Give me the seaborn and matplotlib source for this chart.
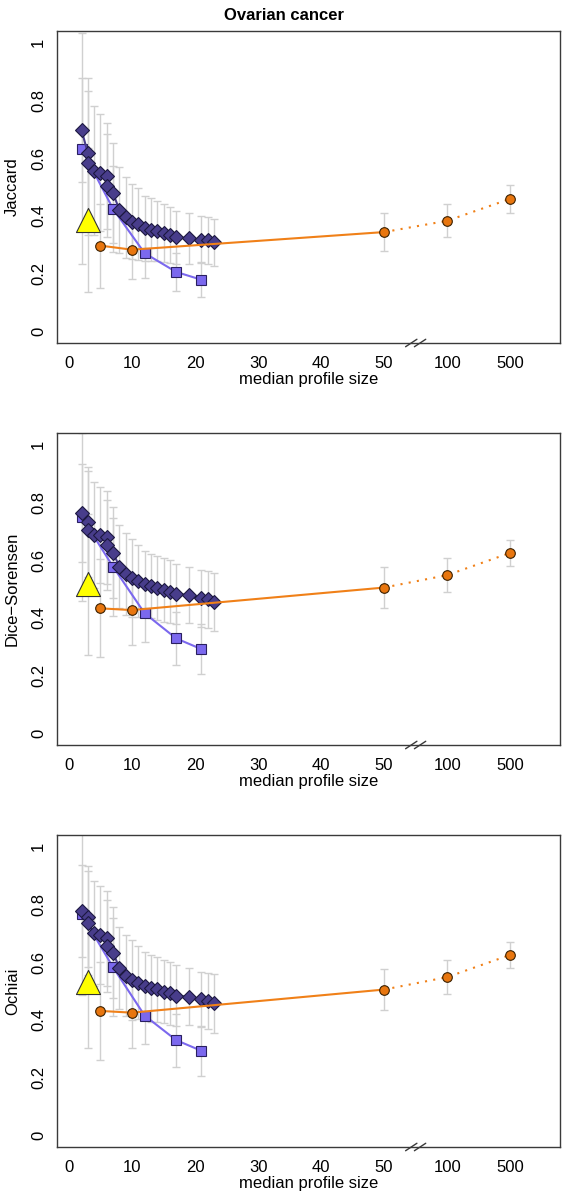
import numpy as np
import matplotlib
matplotlib.use("Agg")
import matplotlib.pyplot as plt
import matplotlib.transforms as mtransforms
import seaborn as sns

# --- data ---

dark_x = [2, 3, 3, 4, 5, 6, 6, 7, 8, 9, 10, 11, 12, 13, 14, 15, 16, 17, 19, 21, 22, 23]
square_x = [2, 7, 12, 17, 21]
orange_x = [5, 10, 50, 100, 500]
triangle_x = [3]

jac_dark = [0.697, 0.616, 0.584, 0.556, 0.549, 0.538, 0.505, 0.478, 0.421, 0.395, 0.380,
            0.372, 0.357, 0.352, 0.349, 0.340, 0.334, 0.326, 0.323, 0.317, 0.315, 0.308]
jac_dark_err = [0.18, 0.26, 0.25, 0.223, 0.203, 0.184, 0.177, 0.173, 0.149, 0.141, 0.130,
                0.123, 0.112, 0.109, 0.104, 0.100, 0.098, 0.092, 0.088, 0.081, 0.080, 0.082]
jac_square = [0.633, 0.424, 0.271, 0.206, 0.179]
jac_square_err = [0.40, 0.15, 0.085, 0.067, 0.06]
jac_orange = [0.297, 0.283, 0.344, 0.383, 0.459]
jac_orange_err = [0.145, 0.10, 0.065, 0.057, 0.048]
jac_triangle = [0.386]
jac_triangle_err = [0.25]

dice_dark = [0.762, 0.733, 0.704, 0.687, 0.687, 0.679, 0.652, 0.626, 0.577, 0.552, 0.537,
             0.529, 0.517, 0.510, 0.504, 0.496, 0.491, 0.483, 0.479, 0.468, 0.464, 0.456]
dice_dark_err = [0.17, 0.19, 0.205, 0.184, 0.167, 0.16, 0.156, 0.157, 0.144, 0.141, 0.135,
                 0.125, 0.115, 0.111, 0.110, 0.110, 0.109, 0.103, 0.098, 0.098, 0.100, 0.100]
dice_square = [0.750, 0.577, 0.416, 0.329, 0.292]
dice_square_err = [0.29, 0.17, 0.10, 0.092, 0.086]
dice_orange = [0.433, 0.427, 0.505, 0.548, 0.625]
dice_orange_err = [0.17, 0.12, 0.07, 0.06, 0.045]
dice_triangle = [0.516]
dice_triangle_err = [0.245]

och_dark = [0.777, 0.757, 0.737, 0.700, 0.694, 0.682, 0.656, 0.633, 0.579, 0.553, 0.538,
            0.529, 0.517, 0.509, 0.506, 0.498, 0.492, 0.484, 0.480, 0.471, 0.466, 0.457]
och_dark_err = [0.159, 0.175, 0.18, 0.181, 0.17, 0.164, 0.16, 0.157, 0.142, 0.141, 0.139,
                0.127, 0.117, 0.116, 0.113, 0.109, 0.109, 0.106, 0.099, 0.096, 0.097, 0.101]
och_square = [0.766, 0.582, 0.415, 0.330, 0.293]
och_square_err = [0.28, 0.17, 0.10, 0.092, 0.087]
och_orange = [0.431, 0.425, 0.505, 0.548, 0.625]
och_orange_err = [0.17, 0.123, 0.07, 0.06, 0.045]
och_triangle = [0.532]
och_triangle_err = [0.23]

panels = [
    ("Jaccard", jac_dark, jac_dark_err, jac_square, jac_square_err,
     jac_orange, jac_orange_err, jac_triangle, jac_triangle_err),
    ("Dice\u2212Sorensen", dice_dark, dice_dark_err, dice_square, dice_square_err,
     dice_orange, dice_orange_err, dice_triangle, dice_triangle_err),
    ("Ochiai", och_dark, och_dark_err, och_square, och_square_err,
     och_orange, och_orange_err, och_triangle, och_triangle_err),
]

x_tick_values = [0, 10, 20, 30, 40, 50, 100, 500]
x_tick_labels = ["0", "10", "20", "30", "40", "50", "100", "500"]

# broken x axis: linear up to 50, then 100 and 500 placed at 60 and 70
broken_pos = {100: 60, 500: 70}


def xpos(values):
    return [broken_pos.get(v, v) for v in values]


# --- styling ---
sns.set_style("white")
plt.rcParams["font.family"] = ["Liberation Sans", "DejaVu Sans"]
plt.rcParams["font.size"] = 12
plt.rcParams["text.color"] = "black"
plt.rcParams["axes.labelcolor"] = "black"

col_dark = "#483D8B"
col_square = "#7B68EE"
col_orange = "#E8760F"
col_orange_line = "#F08018"
col_err = "#D0D0D0"
col_frame = "#3A3A3A"

W, H = 567, 1203
fig = plt.figure(figsize=(W / 100, H / 100), dpi=100)

left, right = 57 / W, 560 / W
tops = [31, 433, 835]
panel_h = 312

fig.text(0.5, 1 - 15 / H, "Ovarian cancer", ha="center", va="center",
         fontsize=12, fontweight="bold")

for (ylab, d_y, d_e, s_y, s_e, o_y, o_e, t_y, t_e), top in zip(panels, tops):
    ax = fig.add_axes([left, 1 - (top + panel_h) / H, right - left, panel_h / H])

    ekw = dict(fmt="none", ecolor=col_err, elinewidth=1, capsize=3, capthick=1, zorder=1)
    ax.errorbar(xpos(dark_x), d_y, yerr=d_e, **ekw)
    ax.errorbar(xpos(square_x), s_y, yerr=s_e, **ekw)
    ax.errorbar(xpos(orange_x), o_y, yerr=o_e, **ekw)
    ax.errorbar(xpos(triangle_x), t_y, yerr=t_e, **ekw)

    # squares series
    sns.lineplot(x=xpos(square_x), y=s_y, ax=ax, estimator=None, sort=False,
                 color=col_square, lw=1.5, marker="s", markersize=6.5,
                 markerfacecolor=col_square, markeredgecolor="#2a2060",
                 markeredgewidth=0.8, zorder=3)
    # diamonds series
    sns.lineplot(x=xpos(dark_x), y=d_y, ax=ax, estimator=None, sort=False,
                 color=col_dark, lw=1.5, marker="D", markersize=7,
                 markerfacecolor=col_dark, markeredgecolor="#1c1840",
                 markeredgewidth=0.8, zorder=4)
    # orange: solid up to 50, dotted beyond
    ox = xpos(orange_x)
    sns.lineplot(x=ox[:3], y=o_y[:3], ax=ax, estimator=None, sort=False,
                 color=col_orange_line, lw=1.5, zorder=5)
    sns.lineplot(x=ox[2:], y=o_y[2:], ax=ax, estimator=None, sort=False,
                 color=col_orange_line, lw=1.5, linestyle=(0, (1, 3)), zorder=5)
    sns.scatterplot(x=ox, y=o_y, ax=ax, color=col_orange, marker="o", s=48,
                    edgecolor="#3a2000", linewidth=0.8, zorder=6)
    sns.scatterplot(x=xpos(triangle_x), y=t_y, ax=ax, color="#FFFF00", marker="^",
                    s=300, edgecolor="#333333", linewidth=0.8, zorder=7)

    ax.set_xlim(-1.9, 77.9)
    ax.set_ylim(-0.04, 1.04)
    ax.set_xticks(xpos(x_tick_values))
    ax.set_xticklabels(x_tick_labels)
    yt = np.round(np.arange(0, 1.01, 0.1), 1)
    ax.set_yticks(yt)
    ax.set_yticklabels(["0" if v == 0 else ("1" if v == 1 else (f"{v:g}" if round(v * 10) % 2 == 0 else ""))
                        for v in yt], rotation=90, va="center")
    ax.tick_params(axis="both", direction="out", length=5, width=1, color=col_frame,
                   labelsize=12, labelcolor="black", pad=3)
    ax.tick_params(axis="x", pad=4)
    for sp in ax.spines.values():
        sp.set_color(col_frame)
        sp.set_linewidth(1)
    ax.set_xlabel("median profile size", fontsize=12, labelpad=1)
    ax.set_ylabel(ylab, fontsize=12, labelpad=8)
    ax.grid(False)

    # axis break marks
    trans = mtransforms.blended_transform_factory(ax.transData, ax.transAxes)
    for cx in (54.3, 55.7):
        ax.plot([cx - 0.9, cx + 0.9], [-0.012, 0.012], transform=trans,
                color=col_frame, lw=1, clip_on=False, zorder=10)

fig.savefig("out.png", dpi=100)
